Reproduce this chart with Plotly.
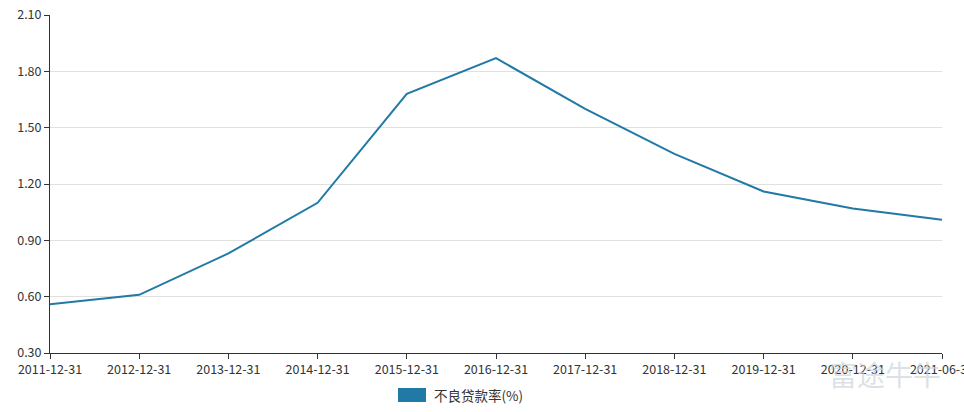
import plotly.graph_objects as go

categories = ["2011-12-31", "2012-12-31", "2013-12-31", "2014-12-31", "2015-12-31",
              "2016-12-31", "2017-12-31", "2018-12-31", "2019-12-31", "2020-12-31", "2021-06-30"]
npl_ratio = [0.56, 0.61, 0.83, 1.10, 1.68, 1.87, 1.60, 1.36, 1.16, 1.07, 1.01]
series_name = "不良贷款率(%)"
y_ticks = [0.30, 0.60, 0.90, 1.20, 1.50, 1.80, 2.10]

line_color = "#2179a5"
font_family = "Noto Sans CJK SC, Noto Sans, sans-serif"

fig = go.Figure()
fig.add_trace(go.Scatter(
    x=list(range(len(categories))), y=npl_ratio, mode="lines",
    line=dict(color=line_color, width=2), name=series_name, showlegend=False,
    hoverinfo="x+y"))

fig.update_layout(
    width=964, height=412,
    margin=dict(l=50, r=22, t=15, b=59),
    paper_bgcolor="white", plot_bgcolor="white",
    font=dict(family=font_family, size=12, color="#333"),
    xaxis=dict(
        range=[0, len(categories) - 1],
        tickmode="array", tickvals=list(range(len(categories))), ticktext=categories,
        showgrid=False, zeroline=False,
        showline=True, linecolor="#333", linewidth=1,
        ticks="outside", ticklen=5, tickcolor="#333",
        ticklabeloverflow="allow",
        automargin=False, tickfont=dict(size=12.5, color="#333")),
    yaxis=dict(
        range=[0.30, 2.10],
        tickmode="array", tickvals=y_ticks, ticktext=[f"{v:.2f}" for v in y_ticks],
        showgrid=True, gridcolor="#e0e0e0", gridwidth=1, zeroline=False,
        showline=True, linecolor="#333", linewidth=1,
        ticks="outside", ticklen=5, tickcolor="#333",
        automargin=False, tickfont=dict(size=12.5, color="#333")),
    showlegend=False,
)

# manual legend (rectangle swatch + text)
fig.add_shape(type="rect", xref="paper", yref="paper",
              x0=(398 - 50) / 892, x1=(426 - 50) / 892,
              y0=-(402 - 353) / 338, y1=-(388 - 353) / 338,
              fillcolor=line_color, line=dict(width=0))
fig.add_annotation(text=series_name, xref="paper", yref="paper",
                   x=(432 - 50) / 892, y=-(395 - 353) / 338,
                   xanchor="left", yanchor="middle", showarrow=False,
                   font=dict(size=13.5, color="#333", family=font_family))

# watermark
fig.add_annotation(text="富途牛牛", xref="paper", yref="paper",
                   x=(885 - 50) / 892, y=-(374 - 353) / 338,
                   xanchor="center", yanchor="middle", showarrow=False,
                   font=dict(size=28, color="rgba(205,212,220,0.7)", family=font_family))

fig.write_html("out.html")
